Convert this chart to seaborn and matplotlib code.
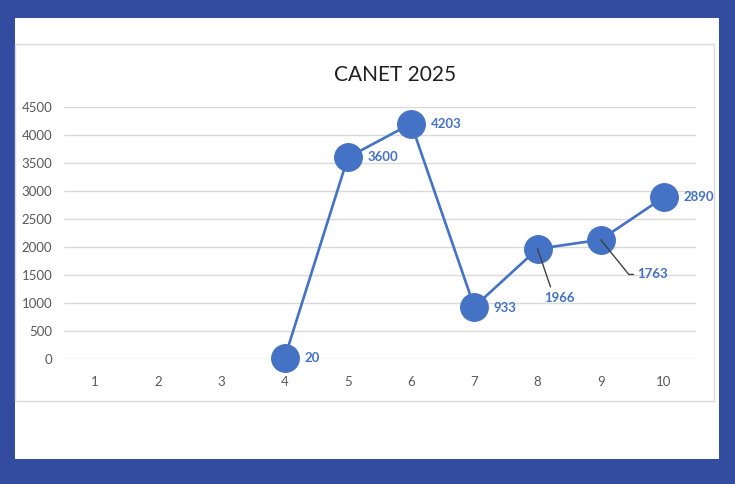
# CANET 2025 line chart
import seaborn as sns
import matplotlib.pyplot as plt
from matplotlib.patches import Rectangle
import pandas as pd

# data
categories = [1, 2, 3, 4, 5, 6, 7, 8, 9, 10]
x_vals = [4, 5, 6, 7, 8, 9, 10]
y_vals = [20, 3600, 4203, 933, 1966, 2130, 2890]
point_labels = ['20', '3600', '4203', '933', '1966', '1763', '2890']
y_ticks = [0, 500, 1000, 1500, 2000, 2500, 3000, 3500, 4000, 4500]

df = pd.DataFrame({'x': x_vals, 'y': y_vals})

sns.set_style('white')
plt.rcParams['font.family'] = ['Lato', 'DejaVu Sans']

blue = '#4472c4'
frame_blue = '#344c9f'

fig = plt.figure(figsize=(7.35, 4.84), dpi=100, facecolor=frame_blue)

# white panel and light chart frame
fig.patches.append(Rectangle((15 / 735, 1 - 459 / 484), 704 / 735, 441 / 484,
                             transform=fig.transFigure, facecolor='white',
                             edgecolor='none', zorder=-2))
fig.patches.append(Rectangle((15 / 735, 1 - 401 / 484), 699 / 735, 357 / 484,
                             transform=fig.transFigure, facecolor='none',
                             edgecolor='#d9d9d9', linewidth=1, zorder=-1))

ax = fig.add_axes([63.5 / 735, 1 - 359 / 484, 632 / 735, 252 / 484])
ax.set_facecolor('none')
ax.set_zorder(2)

sns.lineplot(data=df, x='x', y='y', ax=ax, color=blue, linewidth=1.9,
             marker='o', markersize=20, markeredgecolor=blue, clip_on=False,
             zorder=3)

ax.set_xlim(0.5, 10.5)
ax.set_ylim(0, 4500)
ax.set_xticks(categories)
ax.set_yticks(y_ticks)
ax.set_xlabel('')
ax.set_ylabel('')
ax.grid(axis='y', color='#d9d9d9', linewidth=1)
ax.set_axisbelow(True)
for s in ax.spines.values():
    s.set_visible(False)
ax.tick_params(axis='x', length=0, pad=12.5, labelsize=9.5, labelcolor='#595959')
ax.tick_params(axis='y', length=0, pad=8, labelsize=9.5, labelcolor='#595959')

fig.text(395 / 735, 1 - 75 / 484, 'CANET 2025', ha='center', va='center',
         fontsize=15, color='#1f1f1f')

# data labels
lbl = dict(color=blue, fontsize=9.5, fontweight='bold', textcoords='offset points')
for xv, yv, t in zip(x_vals, y_vals, point_labels):
    if t == '1966':
        ax.annotate(t, (xv, yv), xytext=(16, -35), ha='center', va='center',
                    arrowprops=dict(arrowstyle='-', color='#404040', lw=1,
                                    relpos=(0.25, 1.0), shrinkA=1, shrinkB=0),
                    zorder=5, **lbl)
    elif t == '1763':
        ax.annotate(t, (xv, yv), xytext=(26, -25), ha='left', va='center',
                    arrowprops=dict(arrowstyle='-', color='#404040', lw=1,
                                    relpos=(0, 0.5), shrinkA=0, shrinkB=0,
                                    connectionstyle='angle,angleA=180,angleB=-51,rad=0'),
                    zorder=5, **lbl)
    elif t == '933':
        ax.annotate(t, (xv, yv), xytext=(14, -1), ha='left', va='center', **lbl)
    else:
        ax.annotate(t, (xv, yv), xytext=(14, 0), ha='left', va='center', **lbl)

fig.savefig('out.png', dpi=100, facecolor=frame_blue)
